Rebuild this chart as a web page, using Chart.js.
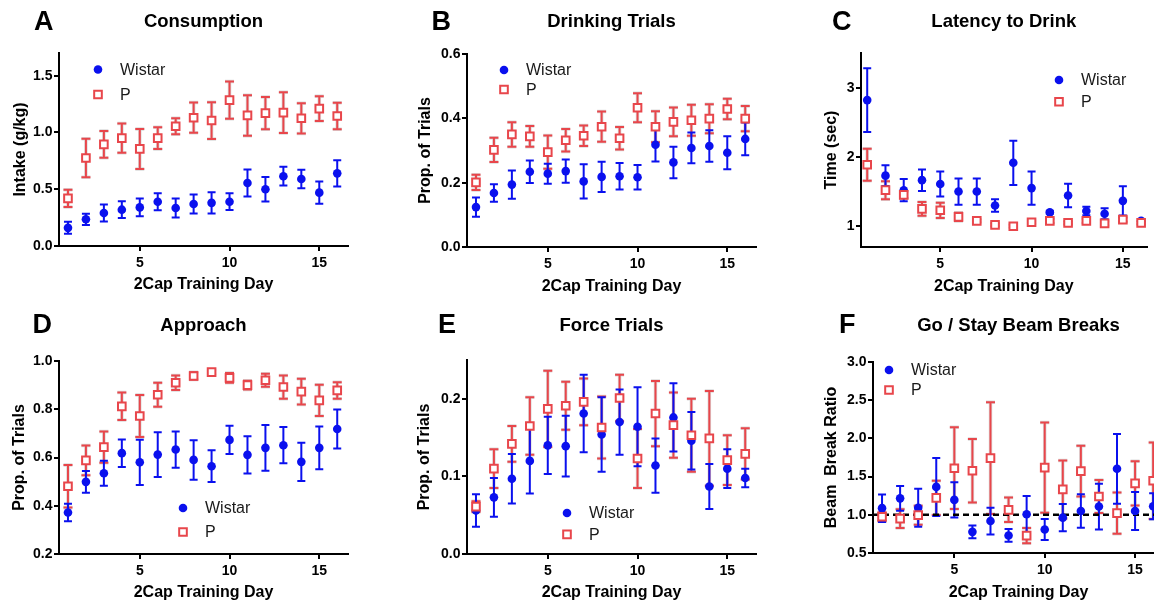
<!DOCTYPE html>
<html>
<head>
<meta charset="utf-8">
<script src="https://cdn.jsdelivr.net/npm/chart.js@4.4.1/dist/chart.umd.min.js"></script>
<style>
  html, body { margin: 0; padding: 0; background: #fff; width: 1154px; height: 604px; overflow: hidden; position: relative; }
  canvas { position: absolute; }
</style>
</head>
<body>
<canvas id="cA"></canvas>
<canvas id="cB"></canvas>
<canvas id="cC"></canvas>
<canvas id="cD"></canvas>
<canvas id="cE"></canvas>
<canvas id="cF"></canvas>
<script>
// training days
const days = [1, 2, 3, 4, 5, 6, 7, 8, 9, 10, 11, 12, 13, 14, 15, 16];
const xTicks = [5, 10, 15];
const xLabels = ['5', '10', '15'];
const seriesNames = ['Wistar', 'P'];

// A - Consumption (g/kg)
const consWistar    = [0.16, 0.235, 0.29, 0.32, 0.34, 0.39, 0.335, 0.37, 0.38, 0.39, 0.555, 0.50, 0.615, 0.59, 0.47, 0.64];
const consWistarErr = [0.053, 0.05, 0.075, 0.074, 0.078, 0.075, 0.084, 0.084, 0.093, 0.074, 0.118, 0.108, 0.082, 0.082, 0.098, 0.116];
const consP         = [0.42, 0.775, 0.895, 0.95, 0.855, 0.95, 1.055, 1.13, 1.105, 1.285, 1.15, 1.17, 1.175, 1.125, 1.21, 1.145];
const consPErr      = [0.076, 0.17, 0.118, 0.128, 0.176, 0.095, 0.07, 0.133, 0.162, 0.164, 0.178, 0.142, 0.18, 0.133, 0.109, 0.116];
const consTicks  = [0, 0.5, 1.0, 1.5];
const consLabels = ['0.0', '0.5', '1.0', '1.5'];

// B - Drinking trials (proportion)
const drinkWistar    = [0.124, 0.168, 0.194, 0.234, 0.228, 0.236, 0.204, 0.218, 0.22, 0.217, 0.318, 0.263, 0.308, 0.314, 0.293, 0.336];
const drinkWistarErr = [0.03, 0.027, 0.044, 0.035, 0.031, 0.036, 0.053, 0.047, 0.041, 0.038, 0.052, 0.049, 0.048, 0.049, 0.051, 0.051];
const drinkP         = [0.201, 0.302, 0.35, 0.344, 0.295, 0.332, 0.346, 0.374, 0.338, 0.433, 0.374, 0.389, 0.394, 0.399, 0.429, 0.399];
const drinkPErr      = [0.024, 0.038, 0.038, 0.032, 0.052, 0.035, 0.032, 0.047, 0.035, 0.045, 0.048, 0.045, 0.048, 0.045, 0.032, 0.039];
const drinkTicks  = [0, 0.2, 0.4, 0.6];
const drinkLabels = ['0.0', '0.2', '0.4', '0.6'];

// C - Latency to drink (sec)
const latWistar    = [2.82, 1.73, 1.52, 1.665, 1.61, 1.5, 1.5, 1.3, 1.915, 1.55, 1.2, 1.443, 1.22, 1.18, 1.366, 1.077];
const latWistarErr = [0.46, 0.15, 0.16, 0.155, 0.18, 0.19, 0.19, 0.09, 0.32, 0.24, 0.02, 0.17, 0.06, 0.08, 0.21, 0.02];
const latP         = [1.887, 1.52, 1.453, 1.25, 1.23, 1.135, 1.077, 1.02, 1.0, 1.058, 1.077, 1.048, 1.077, 1.04, 1.096, 1.048];
const latPErr      = [0.23, 0.13, 0.05, 0.1, 0.11, 0.06, 0.02, 0.02, 0.02, 0.02, 0.03, 0.02, 0.03, 0.03, 0.03, 0.02];
const latTicks  = [1, 2, 3];
const latLabels = ['1', '2', '3'];

// D - Approach (proportion)
const apprWistar    = [0.372, 0.499, 0.535, 0.618, 0.58, 0.612, 0.633, 0.59, 0.564, 0.673, 0.611, 0.64, 0.651, 0.582, 0.64, 0.718];
const apprWistarErr = [0.036, 0.045, 0.052, 0.057, 0.094, 0.093, 0.075, 0.082, 0.066, 0.059, 0.077, 0.095, 0.075, 0.079, 0.089, 0.081];
const apprP         = [0.481, 0.588, 0.643, 0.812, 0.772, 0.86, 0.91, 0.938, 0.954, 0.93, 0.9, 0.92, 0.892, 0.873, 0.837, 0.878];
const apprPErr      = [0.088, 0.062, 0.065, 0.057, 0.087, 0.05, 0.03, 0.015, 0.01, 0.02, 0.018, 0.027, 0.048, 0.053, 0.065, 0.034];
const apprTicks  = [0.2, 0.4, 0.6, 0.8, 1.0];
const apprLabels = ['0.2', '0.4', '0.6', '0.8', '1.0'];

// E - Force trials (proportion)
const forceWistar    = [0.056, 0.073, 0.097, 0.12, 0.14, 0.139, 0.181, 0.154, 0.17, 0.164, 0.114, 0.176, 0.146, 0.087, 0.11, 0.098];
const forceWistarErr = [0.021, 0.025, 0.032, 0.042, 0.037, 0.039, 0.05, 0.048, 0.042, 0.051, 0.035, 0.044, 0.037, 0.029, 0.025, 0.012];
const forceP         = [0.061, 0.11, 0.142, 0.165, 0.187, 0.191, 0.196, 0.163, 0.201, 0.123, 0.181, 0.166, 0.153, 0.149, 0.121, 0.129];
const forcePErr      = [0.007, 0.025, 0.023, 0.037, 0.049, 0.031, 0.03, 0.04, 0.03, 0.038, 0.042, 0.042, 0.047, 0.061, 0.032, 0.033];
const forceTicks  = [0, 0.1, 0.2];
const forceLabels = ['0.0', '0.1', '0.2'];

// F - Go / Stay beam break ratio
const beamWistar    = [1.087, 1.215, 1.093, 1.365, 1.195, 0.777, 0.918, 0.73, 1.007, 0.807, 0.963, 1.05, 1.108, 1.602, 1.05, 1.111];
const beamWistarErr = [0.18, 0.162, 0.248, 0.38, 0.23, 0.083, 0.175, 0.083, 0.24, 0.137, 0.178, 0.22, 0.3, 0.456, 0.25, 0.17];
const beamP         = [0.975, 0.95, 0.995, 1.221, 1.61, 1.577, 1.742, 1.065, 0.727, 1.618, 1.332, 1.572, 1.24, 1.022, 1.412, 1.445];
const beamPErr      = [0.06, 0.122, 0.125, 0.225, 0.535, 0.415, 0.73, 0.16, 0.1, 0.59, 0.38, 0.333, 0.215, 0.27, 0.29, 0.5];
const beamTicks  = [0.5, 1.0, 1.5, 2.0, 2.5, 3.0];
const beamLabels = ['0.5', '1.0', '1.5', '2.0', '2.5', '3.0'];
const beamRefLine = 1.0;

const BLUE = '#0a10ee';
const RED = '#e8464b';
const FONT = '"Liberation Sans", Arial, Helvetica, sans-serif';

Chart.defaults.font.family = FONT;
Chart.defaults.color = '#000';

// error bars (mean +/- err), drawn under the markers
const errorBars = {
  id: 'errorBars',
  beforeDatasetsDraw(chart) {
    const ctx = chart.ctx;
    const xs = chart.scales.x, ys = chart.scales.y;
    const list = chart.data.datasets.filter(d => d.errors).reverse();
    for (const ds of list) {
      const passes = ds.halo ? [[ds.halo, 3.5], [ds.borderColor, 2]] : [[ds.borderColor, 2]];
      ctx.save();
      for (const [col, w] of passes) {
        ctx.strokeStyle = col;
        ctx.lineWidth = w;
        ds.data.forEach((p, j) => {
          const e = ds.errors[j];
          const x = xs.getPixelForValue(p.x);
          const yTop = ys.getPixelForValue(p.y + e);
          const yBot = ys.getPixelForValue(p.y - e);
          const c = ds.capHalf;
          ctx.beginPath();
          ctx.moveTo(x, yTop); ctx.lineTo(x, yBot);
          ctx.moveTo(x - c, yTop); ctx.lineTo(x + c, yTop);
          ctx.moveTo(x - c, yBot); ctx.lineTo(x + c, yBot);
          ctx.stroke();
        });
      }
      ctx.restore();
    }
  }
};

// legend inside the plot + panel letter
const panelDecor = {
  id: 'panelDecor',
  afterDraw(chart, args, opts) {
    const ctx = chart.ctx;
    const area = chart.chartArea;
    ctx.save();
    // letter
    ctx.font = 'bold 27px ' + FONT;
    ctx.fillStyle = '#000';
    ctx.textAlign = 'left';
    ctx.textBaseline = 'alphabetic';
    ctx.fillText(opts.letter, opts.letterX, opts.letterY);

    // legend
    const mx = area.left + opts.legendX;
    let my = area.top + opts.legendY;
    ctx.font = '16px ' + FONT;
    ctx.textBaseline = 'middle';
    chart.data.datasets.filter(d => d.errors).forEach(ds => {
      ctx.lineWidth = 2;
      if (ds.pointStyle === 'circle') {
        ctx.fillStyle = ds.backgroundColor;
        ctx.beginPath();
        ctx.arc(mx, my, ds.pointRadius, 0, Math.PI * 2);
        ctx.fill();
      } else {
        const h = ds.pointRadius * Math.SQRT1_2;
        ctx.fillStyle = '#fff';
        ctx.strokeStyle = ds.borderColor;
        ctx.beginPath();
        ctx.rect(mx - h, my - h, 2 * h, 2 * h);
        ctx.fill();
        ctx.stroke();
      }
      ctx.fillStyle = '#1a1a1a';
      ctx.fillText(ds.label, mx + 22, my + 1);
      my += opts.legendGap;
    });
    ctx.restore();
  }
};

function makePanel(p) {
  const [cx, cy, cw, ch] = p.box;
  const [l, t, r, b] = p.area;
  const el = document.getElementById(p.id);
  el.width = cw; el.height = ch;
  el.style.left = cx + 'px'; el.style.top = cy + 'px';
  el.style.width = cw + 'px'; el.style.height = ch + 'px';

  const tTop = p.titleY - 11.1;
  const datasets = [
    {
      label: seriesNames[0],
      data: days.map((d, i) => ({ x: d, y: p.wistar[i] })),
      errors: p.wistarErr, capHalf: 4,
      pointStyle: 'circle', pointRadius: 4.3,
      backgroundColor: BLUE, borderColor: BLUE, borderWidth: 0,
      order: 2
    },
    {
      label: seriesNames[1],
      data: days.map((d, i) => ({ x: d, y: p.pv[i] })),
      errors: p.pErr, capHalf: 4.5, halo: 'rgba(175,175,175,0.45)',
      pointStyle: 'rect', pointRadius: 5.4,
      backgroundColor: '#fff', borderColor: RED, borderWidth: 2,
      order: 1
    }
  ];
  if (p.refLine !== undefined) {
    datasets.push({
      type: 'line',
      data: [{ x: p.xRange[0], y: p.refLine }, { x: p.xRange[1], y: p.refLine }],
      borderColor: '#000', borderWidth: 2.5, borderDash: [6, 4],
      pointRadius: 0, order: 3
    });
  }

  return new Chart(el, {
    type: 'scatter',
    data: { datasets },
    options: {
      responsive: false,
      animation: false,
      layout: { padding: { left: 0, top: 0, right: (cx + cw) - r, bottom: 0 } },
      plugins: {
        legend: { display: false },
        tooltip: { enabled: false },
        title: {
          display: true, text: p.title, fullSize: false,
          font: { size: 18.5, weight: 'bold' }, color: '#000',
          padding: { top: tTop, bottom: (t - cy) - 22.2 - tTop }
        },
        panelDecor: {
          letter: p.letter, letterX: p.letterPos[0], letterY: p.letterPos[1],
          legendX: p.legend[0], legendY: p.legend[1], legendGap: p.legend[2]
        }
      },
      scales: {
        x: {
          type: 'linear', min: p.xRange[0], max: p.xRange[1],
          afterBuildTicks: s => { s.ticks = xTicks.map(v => ({ value: v })); },
          afterFit: s => { s.height = (cy + ch) - b; },
          ticks: { callback: (v, i) => xLabels[i], font: { size: 14, weight: 'bold' }, color: '#000', padding: 3.5, autoSkip: false, maxRotation: 0 },
          grid: { drawOnChartArea: false, drawTicks: true, tickLength: 5, color: '#000', lineWidth: 2 },
          border: { display: true, color: '#000', width: 2 },
          title: {
            display: true, text: '2Cap Training Day', color: '#000',
            font: { size: 16, weight: 'bold' },
            padding: { top: 0, bottom: ch - 9.6 - p.xTitleY }
          }
        },
        y: {
          type: 'linear', min: p.yRange[0], max: p.yRange[1],
          afterBuildTicks: s => { s.ticks = p.yTicks.map(v => ({ value: v })); },
          afterFit: s => { s.width = l - cx; },
          ticks: { callback: (v, i) => p.yLabels[i], font: { size: 14, weight: 'bold' }, color: '#000', padding: 1.5, autoSkip: false },
          grid: { drawOnChartArea: false, drawTicks: true, tickLength: 5, color: '#000', lineWidth: 2 },
          border: { display: true, color: '#000', width: 2 },
          title: {
            display: true, text: p.yTitle, color: '#000',
            font: { size: 16, weight: 'bold' },
            padding: { top: p.yTitleX - 9.6, bottom: 0 }
          }
        }
      }
    },
    plugins: [errorBars, panelDecor]
  });
}

makePanel({
  id: 'cA', letter: 'A', title: 'Consumption', yTitle: 'Intake (g/kg)',
  box: [0, 0, 385, 302], area: [59, 53, 348, 246],
  xRange: [0.5, 16.6], yRange: [0, 1.7], yTicks: consTicks, yLabels: consLabels,
  wistar: consWistar, wistarErr: consWistarErr, pv: consP, pErr: consPErr,
  legend: [39, 16.5, 25], letterPos: [34, 30], titleY: 22, yTitleX: 20.5, xTitleY: 285
});
makePanel({
  id: 'cB', letter: 'B', title: 'Drinking Trials', yTitle: 'Prop. of Trials',
  box: [385, 0, 389, 302], area: [467, 54, 756, 247],
  xRange: [0.5, 16.6], yRange: [0, 0.6], yTicks: drinkTicks, yLabels: drinkLabels,
  wistar: drinkWistar, wistarErr: drinkWistarErr, pv: drinkP, pErr: drinkPErr,
  legend: [37, 16, 19.5], letterPos: [46.5, 30], titleY: 22, yTitleX: 40.5, xTitleY: 286.3
});
makePanel({
  id: 'cC', letter: 'C', title: 'Latency to Drink', yTitle: 'Time (sec)',
  box: [774, 0, 380, 302], area: [861, 53, 1149, 247],
  xRange: [0.66, 16.3], yRange: [0.7, 3.5], yTicks: latTicks, yLabels: latLabels,
  wistar: latWistar, wistarErr: latWistarErr, pv: latP, pErr: latPErr,
  legend: [198, 27, 21.7], letterPos: [58, 30], titleY: 22, yTitleX: 57.8, xTitleY: 286.3
});
makePanel({
  id: 'cD', letter: 'D', title: 'Approach', yTitle: 'Prop. of Trials',
  box: [0, 302, 385, 302], area: [59, 361, 348, 554],
  xRange: [0.5, 16.6], yRange: [0.2, 1.0], yTicks: apprTicks, yLabels: apprLabels,
  wistar: apprWistar, wistarErr: apprWistarErr, pv: apprP, pErr: apprPErr,
  legend: [124, 147, 24], letterPos: [32.5, 30.7], titleY: 23.7, yTitleX: 19.8, xTitleY: 290.3
});
makePanel({
  id: 'cE', letter: 'E', title: 'Force Trials', yTitle: 'Prop. of Trials',
  box: [385, 302, 389, 302], area: [467, 360, 756, 554],
  xRange: [0.5, 16.6], yRange: [0, 0.25], yTicks: forceTicks, yLabels: forceLabels,
  wistar: forceWistar, wistarErr: forceWistarErr, pv: forceP, pErr: forcePErr,
  legend: [100, 153, 21.4], letterPos: [53, 30.7], titleY: 23.7, yTitleX: 39.8, xTitleY: 290.3
});
makePanel({
  id: 'cF', letter: 'F', title: 'Go / Stay Beam Breaks', yTitle: 'Beam  Break Ratio',
  box: [774, 302, 400, 302], area: [873, 362, 1164, 553],
  xRange: [0.5, 16.6], yRange: [0.5, 3.0], yTicks: beamTicks, yLabels: beamLabels,
  wistar: beamWistar, wistarErr: beamWistarErr, pv: beamP, pErr: beamPErr, refLine: beamRefLine,
  legend: [16, 8, 20], letterPos: [65, 31], titleY: 23.7, yTitleX: 57.2, xTitleY: 290.3
});
</script>
</body>
</html>
